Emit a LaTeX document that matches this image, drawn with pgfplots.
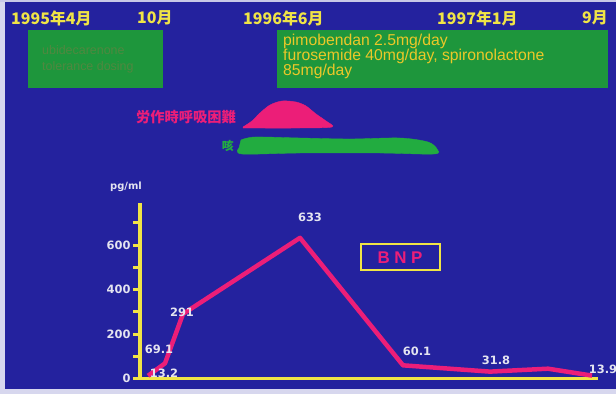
\documentclass[border=0pt]{standalone}
\usepackage{pgfplots}
\pgfplotsset{compat=1.18}
\usepackage{fontspec}
\setmainfont{Liberation Sans}
\newfontfamily\cjk{Noto Sans CJK JP}
\newfontfamily\numfont{DejaVu Sans}
\definecolor{bgblue}{RGB}{36,34,158}
\definecolor{ylw}{RGB}{240,228,70}
\definecolor{boxgreen}{RGB}{30,150,60}
\definecolor{blobgreen}{RGB}{34,172,64}
\definecolor{pnk}{RGB}{236,30,120}
\definecolor{txtylw}{RGB}{236,200,40}
\definecolor{faint}{RGB}{80,136,64}
\definecolor{lbl}{RGB}{228,228,240}
\begin{document}
\begin{tikzpicture}
\useasboundingbox (0,0) rectangle (616bp,394bp);
\begin{axis}[at={(0,0)}, anchor=south west, scale only axis,
  width=616bp, height=394bp, xmin=0, xmax=616, ymin=0, ymax=394,
  y dir=reverse, axis line style={draw=none}, ticks=none,
  axis background/.style={fill=bgblue}, clip=true]
% photo edges
\fill[white!82!bgblue] (axis cs:0,0) rectangle (axis cs:5,394);
\fill[white!82!bgblue] (axis cs:0,389) rectangle (axis cs:616,394);
\fill[white!75!bgblue] (axis cs:0,0) rectangle (axis cs:616,2);
% header dates
\node[anchor=west, text=ylw, font=\cjk\bfseries\fontsize{16}{16}\selectfont, inner sep=0pt] at (axis cs:11,18) {1995年4月};
\node[anchor=west, text=ylw, font=\cjk\bfseries\fontsize{16}{16}\selectfont, inner sep=0pt] at (axis cs:137,18) {10月};
\node[anchor=west, text=ylw, font=\cjk\bfseries\fontsize{16}{16}\selectfont, inner sep=0pt] at (axis cs:243,18) {1996年6月};
\node[anchor=west, text=ylw, font=\cjk\bfseries\fontsize{16}{16}\selectfont, inner sep=0pt] at (axis cs:437,18) {1997年1月};
\node[anchor=west, text=ylw, font=\cjk\bfseries\fontsize{16}{16}\selectfont, inner sep=0pt] at (axis cs:582,18) {9月};
% medication boxes
\fill[boxgreen] (axis cs:28,30) rectangle (axis cs:163,88);
\fill[boxgreen] (axis cs:277,30) rectangle (axis cs:608,88);
\node[anchor=north west, align=left, text=faint, font=\fontsize{12.5}{16}\selectfont, inner sep=0pt] at (axis cs:42,45) {ubidecarenone\\tolerance dosing};
\node[anchor=north west, align=left, text=txtylw, font=\fontsize{15.8}{15}\selectfont, inner sep=0pt] at (axis cs:283,34) {pimobendan 2.5mg/day\\furosemide 40mg/day, spironolactone\\85mg/day};
% symptoms
\node[anchor=east, text=pnk, font=\cjk\bfseries\fontsize{14.3}{14.3}\selectfont, inner sep=0pt] at (axis cs:236,117) {労作時呼吸困難};
\addplot[fill=pnk, draw=pnk, smooth] coordinates {(243,127)(252,121)(260,113)(270,105)(282,101)(296,102)(306,106)(316,114)(326,121)(332,127)(300,128)(243,128)} -- cycle;
\node[anchor=east, text=blobgreen, font=\cjk\bfseries\fontsize{12}{12}\selectfont, inner sep=0pt] at (axis cs:234,146) {咳};
\addplot[fill=blobgreen, draw=blobgreen, smooth] coordinates {(241,140)(255,137)(300,138)(350,139)(400,138)(428,142)(437,149)(434,154)(380,153)(300,153)(242,154)(239,148)} -- cycle;
% BNP legend box
\draw[ylw, line width=2.2pt] (axis cs:361,244) rectangle (axis cs:440,270);
\node[text=pnk, font=\bfseries\fontsize{17}{17}\selectfont, inner sep=0pt] at (axis cs:400,258) {B\hspace{4.5bp}N\hspace{4.5bp}P};
\node[text=lbl, font=\numfont\bfseries\fontsize{10}{10}\selectfont] at (axis cs:126,187) {pg/ml};
\end{axis}
\begin{axis}[at={(140bp,15.3bp)}, anchor=south west, scale only axis,
  width=458bp, height=175.8bp, xmin=140, xmax=598, ymin=0, ymax=790,
  axis x line=bottom, axis y line=left,
  axis line style={-, draw=ylw, line width=3.5pt},
  xtick=\empty, ytick={0,200,400,600}, minor ytick={100,300,500,700},
  tick align=outside, major tick length=7bp, minor tick length=7bp,
  tick style={draw=ylw, line width=3pt},
  yticklabel style={text=lbl, font=\numfont\bfseries\fontsize{11.5}{11.5}\selectfont, xshift=1bp},
  /pgf/number format/assume math mode=true, clip=false]
\addplot[pnk, line width=4.5pt, line join=round, mark=none] coordinates {
  (148,13.2) (165,69.1) (183,291) (300,633) (403,60.1) (490,31.8) (548,45) (592,13.9)};
\node[text=lbl, font=\numfont\bfseries\fontsize{11.5}{11.5}\selectfont] at (axis cs:159,133) {69.1};
\node[text=lbl, font=\numfont\bfseries\fontsize{11.5}{11.5}\selectfont] at (axis cs:164,25) {13.2};
\node[text=lbl, font=\numfont\bfseries\fontsize{11.5}{11.5}\selectfont] at (axis cs:182,300) {291};
\node[text=lbl, font=\numfont\bfseries\fontsize{11.5}{11.5}\selectfont] at (axis cs:310,724) {633};
\node[text=lbl, font=\numfont\bfseries\fontsize{11.5}{11.5}\selectfont] at (axis cs:417,122) {60.1};
\node[text=lbl, font=\numfont\bfseries\fontsize{11.5}{11.5}\selectfont] at (axis cs:496,81) {31.8};
\node[text=lbl, font=\numfont\bfseries\fontsize{11.5}{11.5}\selectfont] at (axis cs:603,41) {13.9};
\end{axis}
\end{tikzpicture}
\end{document}
